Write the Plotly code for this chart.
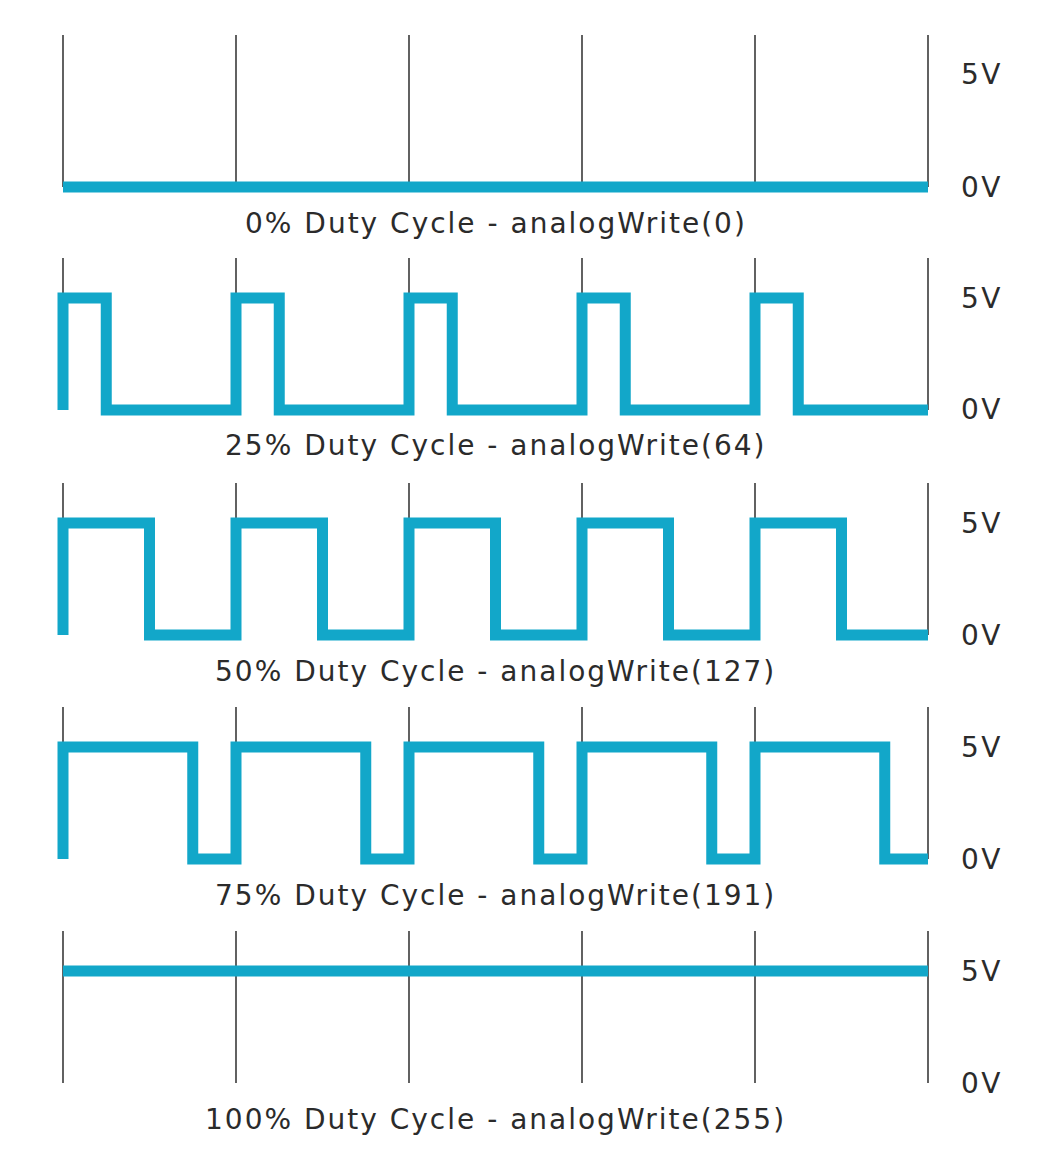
import plotly.graph_objects as go
from plotly.subplots import make_subplots

# ---- data ----
duty_cycles = [0, 25, 50, 75, 100]
analog_values = [0, 64, 127, 191, 255]
titles = [f"{d}% Duty Cycle - analogWrite({a})" for d, a in zip(duty_cycles, analog_values)]
period_ticks = [0, 1, 2, 3, 4, 5]
level_labels = ["5V", "0V"]
level_values = [5, 0]

wave_x = [
    [0, 5],
    [0, 0, 0.25, 1, 1.25, 2, 2.25, 3, 3.25, 4, 4.25, 5],
    [0, 0, 0.5, 1, 1.5, 2, 2.5, 3, 3.5, 4, 4.5, 5],
    [0, 0, 0.75, 1, 1.75, 2, 2.75, 3, 3.75, 4, 4.75, 5],
    [0, 5],
]
wave_y = [
    [0, 0],
    [0, 5, 0, 5, 0, 5, 0, 5, 0, 5, 0, 0],
    [0, 5, 0, 5, 0, 5, 0, 5, 0, 5, 0, 0],
    [0, 5, 0, 5, 0, 5, 0, 5, 0, 5, 0, 0],
    [5, 5],
]

# ---- layout geometry (page pixels; body margin of 8px compensated) ----
OFF = 8
W, H = 1058, 1162
zero_pix = [187, 410, 635, 859, 1083]   # page row of 0V in each panel
px_per_volt = 112 / 5
grid_top = 152 / px_per_volt              # top of vertical guide lines (in volts)
left_px, unit_px = 63, 173

CYAN = "#12A7C9"
GRID = "#3a3a3a"
TXT = "#2b2b2b"
FONT = "DejaVu Sans"


def spaced(s, ls):
    return f'<span style="letter-spacing:{ls}px">{s}</span>'


fig = make_subplots(rows=5, cols=1)

for k in range(5):
    r = k + 1
    gx, gy = [], []
    for t in period_ticks:
        gx += [t, t, None]
        gy += [0, grid_top, None]
    fig.add_trace(go.Scatter(x=gx, y=gy, mode="lines",
                             line=dict(color=GRID, width=1.6),
                             hoverinfo="skip", showlegend=False), row=r, col=1)
    fig.add_trace(go.Scatter(x=wave_x[k], y=wave_y[k], mode="lines",
                             line=dict(color=CYAN, width=11, shape="hv"),
                             showlegend=False), row=r, col=1)

    L = zero_pix[k] - OFF
    top_pix, bot_pix = L - 170, L + 12
    fig.update_yaxes(domain=[1 - bot_pix / H, 1 - top_pix / H],
                     range=[-12 / px_per_volt, 170 / px_per_volt],
                     visible=False, row=r, col=1)
    lp = left_px - OFF
    fig.update_xaxes(range=[-lp / unit_px, (W - lp) / unit_px],
                     visible=False, row=r, col=1)

    for lab, v in zip(level_labels, level_values):
        fig.add_annotation(text=spaced(lab, 2.5), xref="paper", yref="paper",
                           x=(982 - OFF) / W, y=1 - (L - v * px_per_volt) / H,
                           showarrow=False, xanchor="center", yanchor="middle",
                           font=dict(family=FONT, size=28, color=TXT))
    fig.add_annotation(text=spaced(titles[k], 2), xref="paper", yref="paper",
                       x=(lp + 2.5 * unit_px) / W, y=1 - (L + 36) / H,
                       showarrow=False, xanchor="center", yanchor="middle",
                       font=dict(family=FONT, size=28, color=TXT))

fig.update_layout(width=W, height=H, margin=dict(l=0, r=0, t=0, b=0),
                  paper_bgcolor="white", plot_bgcolor="white")

fig.write_html("out.html")
